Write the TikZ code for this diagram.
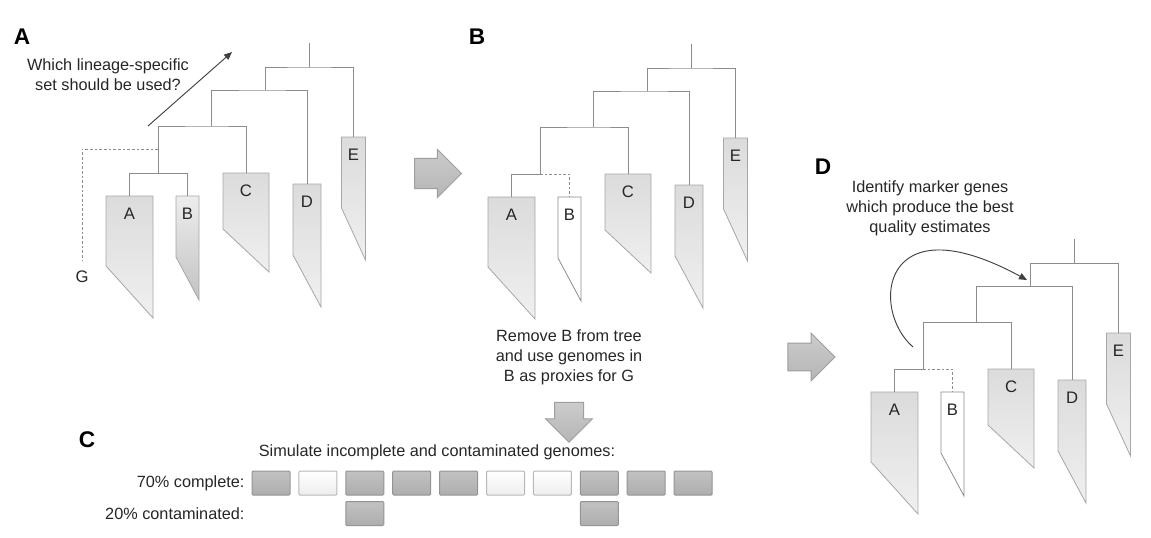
\documentclass[tikz,border=0pt]{standalone}
\usepackage{fontspec}
\setmainfont{Liberation Sans}
\usetikzlibrary{arrows.meta,shapes.arrows}

\tikzset{every picture/.style={line width=0.75pt}}
\tikzset{
  branch/.style={draw=black!45, line width=0.7pt},
  cut/.style={dash pattern=on 2pt off 1.5pt},
  clade/.style={draw=black!35, line width=0.6pt, top color=black!14, bottom color=black!6},
  shadedB/.style={draw=black!35, line width=0.6pt, top color=black!7, bottom color=black!24},
  emptyB/.style={draw=black!45, line width=0.6pt, fill=white},
  leaflbl/.style={inner sep=0pt, text=black!85, font=\fontsize{12.5}{14}\selectfont},
  note/.style={inner sep=0pt, align=center, text=black!85, font=\fontsize{12.2}{15}\selectfont},
  panel/.style={inner sep=0pt, font=\fontsize{17}{20}\selectfont\bfseries},
  fatarrow/.style={single arrow, draw=black!38, top color=black!20, bottom color=black!29,
    inner xsep=0pt, single arrow head indent=0pt},
  dkbox/.style={draw=black!42, top color=black!24, bottom color=black!32, rounded corners=0.8pt,
    minimum width=28.5pt, minimum height=18pt, inner sep=0pt},
  ltbox/.style={draw=black!28, top color=white, bottom color=black!7, rounded corners=0.8pt,
    minimum width=28.5pt, minimum height=18pt, inner sep=0pt},
  pics/cladetree/.style 2 args={code={
    % backbone
    \coordinate (-r0) at (309,43);
    \coordinate (-n1) at (309,67);
    \coordinate (-n2) at (265,90);
    \coordinate (-n3) at (211,126);
    \coordinate (-n4) at (158,173);
    % clades: name/centre/half width/top/left side/tip/style
    \foreach \n/\cx/\hw/\tp/\sd/\tip/\sty in {A/129.5/23.5/196/266/318/clade,
        B/187.5/11.5/196/257/300/#1, C/246/23/173/229/272/clade,
        D/307/14/184/255/307/clade, E/353.5/12/137/208/260/clade}{
      \draw[\sty] (\cx-\hw,\tp) -- (\cx+\hw,\tp) -- (\cx+\hw,\tip) -- (\cx-\hw,\sd) -- cycle;
      \coordinate (-\n) at (\cx,\tp);
      \node[leaflbl] (-\n lbl) at (\cx,\tp+18) {\n};
    }
    \draw[branch] (-r0) -- (-n1);
    \draw[branch] (-n2) |- (-n1) -| (-E);
    \draw[branch] (-n3) |- (-n2) -| (-D);
    \draw[branch] (-n4) |- (-n3) -| (-C);
    \draw[branch] (-A) |- (-n4);
    \draw[branch, #2] (-n4) -| (-B);
  }}
}

\begin{document}
\begin{tikzpicture}[x=0.75pt, y=-0.75pt]

    \useasboundingbox (0,0) rectangle (1151,537);

    % panel A
    \node[panel] (pA) at (22,37) {A};
    \pic (tA) at (0,0) {cladetree={shadedB}{solid}};
    \coordinate (gj) at (158,149);
    \node[leaflbl] (G) at (82,277) {G};
    \draw[branch, cut] (gj) -| ([yshift=8pt]G.north);
    \node[note] (qtext) at (108,75) {Which lineage-specific\\set should be used?};
    \coordinate (qs) at (148,126);
    \coordinate (qe) at (232,52);
    \draw[black!75, line width=0.7pt, -{Triangle[length=6pt, width=5pt]}] (qs) -- (qe);

    \node[fatarrow, minimum height=35.25pt, inner ysep=10.9pt, single arrow head extend=6.75pt]
          (arAB) at (430.5,173.5) {};

    % panel B
    \node[panel] (pB) at (477,37) {B};
    \pic (tB) at (382,1) {cladetree={emptyB}{cut}};
    \node[note] (rmtext) at (569,357) {Remove B from tree\\and use genomes in\\B as proxies for G};
    \node[fatarrow, rotate=-90, minimum height=30pt, inner ysep=10.5pt, single arrow head extend=6.75pt]
          (arBC) at (569,415) {};

    % panel C
    \node[panel] (pC) at (87,440) {C};
    \node[note] (simtext) at (437,452) {Simulate incomplete and contaminated genomes:};
    \node[note, anchor=east] (comp) at (245,483) {70\% complete:};
    \node[note, anchor=east] (cont) at (245,513.5) {20\% contaminated:};
    \foreach \i/\b in {1/dkbox,2/ltbox,3/dkbox,4/dkbox,5/dkbox,6/ltbox,7/ltbox,8/dkbox,9/dkbox,10/dkbox}
      \node[\b] (c\i) at ({271+46.9*(\i-1)},483) {};
    \node[dkbox] (k3) at ({271+46.9*2},513.5) {};
    \node[dkbox] (k8) at ({271+46.9*7},513.5) {};

    \node[fatarrow, minimum height=35.25pt, inner ysep=10.1pt, single arrow head extend=7.5pt]
          (arBD) at (804.5,357) {};

    % panel D
    \node[panel] (pD) at (823,167) {D};
    \pic (tD) at (765,196) {cladetree={emptyB}{cut}};
    \node[note] (idtext) at (930,208) {Identify marker genes\\which produce the best\\quality estimates};
    \coordinate (cs) at (913,347);
    \coordinate (ce) at (1027,280);
    \draw[black!75, line width=0.7pt, -{Triangle[length=6pt, width=5pt]}]
          (cs) .. controls (870,310) and (880,200) .. (ce);

\end{tikzpicture}
\end{document}
